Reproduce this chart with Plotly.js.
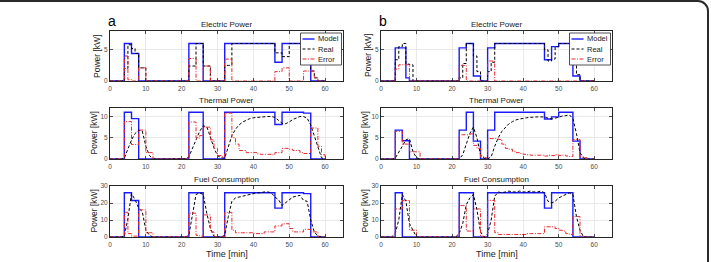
<!DOCTYPE html>
<html>
<head>
<meta charset="utf-8">
<script src="https://cdn.plot.ly/plotly-3.0.1.min.js"></script>
<style>
  html, body { margin: 0; padding: 0; background: #fff; overflow: hidden; width: 711px; height: 262px; }
  #chart { position: absolute; left: 0; top: 0; width: 711px; height: 262px; }
  #frame { position: absolute; left: -20px; top: 0; width: 729px; height: 400px; box-sizing: border-box;
           border: 2px solid #2a2a2a; border-radius: 11px; pointer-events: none; }
</style>
</head>
<body>
<div id="chart"></div>
<div id="frame"></div>
<script>
// Time axis (minutes) shared by every series
const minutes = [
  0,1,2,3,4,5,6,7,8,9,
  10,11,12,13,14,15,16,17,18,19,
  20,21,22,23,24,25,26,27,28,29,
  30,31,32,33,34,35,36,37,38,39,
  40,41,42,43,44,45,46,47,48,49,
  50,51,52,53,54,55,56,57,58,59,
  60];

const seriesNames = ['Model', 'Real', 'Error'];
const panelTitles = ['Electric Power', 'Thermal Power', 'Fuel Consumption'];
const caseLabels = ['a', 'b'];
const xTicks = [0, 10, 20, 30, 40, 50, 60];
const elecTicks = [0, 5];
const thermTicks = [0, 5, 10];
const fuelTicks = [0, 10, 20, 30];

// ---- case a ----
const elecModelA = [
  0,0,0,0,6,6,4.4,4.4,0,0,
  0,0,0,0,0,0,0,0,0,0,
  0,0,6,6,6,6,0,0,0,0,
  0,0,6,6,6,6,6,6,6,6,
  6,6,6,6,6,6,3,3,6,6,
  6,6,6,6,6,6,0,0,0,0,
  0];
const elecRealA = [
  0,0,0,0,2,5.8,5.2,4.4,2.1,2.1,
  0,0,0,0,0,0,0,0,0,0,
  0,0,2.4,2.4,6,6,2.4,2.4,0,0,
  0,0,2.5,2.5,6,6,6,6,6,6,
  6,6,6,6,6,6,4.5,4.5,3.9,3.9,
  6,6,6,6,4.4,4.4,1.6,0.5,0,0,
  0];
const elecErrorA = [
  0,0,0,0,4,0.2,0,0,2.1,2.1,
  0,0,0,0,0,0,0,0,0,0,
  0,0,3.6,3.6,0,0,2.4,2.4,0,0,
  0,0,3.5,3.5,0,0,0,0,0,0,
  0,0,0,0,0,0,1.5,1.5,2.1,2.1,
  0,0,0,0,1.6,1.6,1.6,0.5,0,0,
  0];

const thermModelA = [
  0,0,0,0,11,11,9.5,9.5,0,0,
  0,0,0,0,0,0,0,0,0,0,
  0,0,11,11,11,11,0,0,0,0,
  0,0,11,11,11,11,11,11,11,11,
  11,11,11,11,11,11,8.1,8.1,11,11,
  11,11,11,11,10.8,10.8,0,0,0,0,
  0];
const thermRealA = [
  0,0,0,0,0.2,2.2,4.5,6,6.8,6.6,
  3,0.8,0.1,0,0,0,0,0,0,0,
  0,0.1,0.5,2.5,4.8,6.5,7.8,7.6,5.2,2.6,
  0.8,0.3,0.2,3,5.5,7,8,8.7,9.2,9.5,
  9.7,9.8,9.9,10,10,10,9.8,9.1,8.4,8.3,
  8.7,9.3,9.7,10,10,9.6,8,5.5,2.5,0.3,
  0];
const thermErrorA = [
  0,0,0,0,8.8,8.8,3.4,3.4,6.8,6.8,
  1.5,1.5,0,0,0,0,0,0,0,0,
  0,0,8.7,8.7,4.9,5.5,7.5,7.5,4.5,2.5,
  0.8,0.5,10.8,10.8,5,3.5,2,2,1.5,1.5,
  1.5,1.2,1.1,1.1,1.1,1,1.5,1.5,2.5,2.5,
  2.3,2,2,1.5,1.3,1.3,7.3,7.3,3,1,
  0];

const fuelModelA = [
  0,0,0,0,26,26,21.5,21.5,0,0,
  0,0,0,0,0,0,0,0,0,0,
  0,0,26,26,26,26,0,0,0,0,
  0,0,26,26,26,26,26,26,26,26,
  26,26,26,26,26,26,17,17,26,26,
  26,26,26,26,25.5,25.5,0,0,0,0,
  0];
const fuelRealA = [
  0,0,0,0,0.5,11,25.5,22,17,15,
  4,1,0,0,0,0,0,0,0,0,
  0,0,1,13,25,26,25,14,5,0.5,
  0,0,1,12,21,23,23.5,24,24.5,25,
  25.5,26,26,26.5,26.5,26,23.5,22,18.5,20,
  22,23.5,24,24.5,21.5,21,10,3,0.5,0,
  0];
const fuelErrorA = [
  0,0,0,0,14.5,2,0.5,0.5,16,16,
  2.5,2.5,0,0,0,0,0,0,0,0,
  0,0,14,14,1,0.5,13,13,3,0,
  0,0,14.5,14.5,4,2.5,2.5,2.5,2.5,2.5,
  2,2,2,3,3,3,6.5,6.5,7.8,7.8,
  5,3,3,3,4.5,4.5,3,3,0,0,
  0];

// ---- case b ----
const elecModelB = [
  0,0,0,0,5.3,5.3,5.3,0.5,0,0,
  0,0,0,0,0,0,0,0,0,0,
  0,0,5.3,5.3,6,6,0.8,0.8,0,0,
  5.3,5.3,6,6,6,6,6,6,6,6,
  6,6,6,6,6,6,3.4,3.4,5.5,5.5,
  6,6,6,6,0.8,0.8,0,0,0,0,
  0];
const elecRealB = [
  0,0,0,0,3.4,5.5,6,2.7,2.6,0,
  0,0,0,0,0,0,0,0,0,0,
  0,0,0.5,2.8,6,6,4,1.5,0,0,
  1.5,3,6,6,6,6,6,6,6,6,
  6,6,6,6,6,6,5,3.2,3.5,5.5,
  6,6,6,6,4,1,0,0,0,0,
  0];
const elecErrorB = [
  0,0,0,0,1.9,2.6,2.6,2.6,0,0,
  0,0,0,0,0,0,0,0,0,0,
  0,0,2.5,2.5,0,0,0,0,0,0,
  3.2,3.2,0,0,0,0,0,0,0,0,
  0,0,0,0,0,0,0,0,0,0,
  0,0,0,0,0,0,0,0,0,0,
  0];

const thermModelB = [
  0,0,0,0,6.8,6.8,4.3,4.3,0,0,
  0,0,0,0,0,0,0,0,0,0,
  0,0,6.8,6.8,11,11,4.2,4.2,0,0,
  6.8,6.8,11,11,11,11,11,11,11,11,
  11,11,11,11,11,11,9.4,9.4,9.9,9.9,
  11,11,11,11,4.2,4.2,0,0,0,0,
  0];
const thermRealB = [
  0,0,0,0,0.2,1.5,3,4.5,4.8,1.7,
  0.3,0,0,0,0,0,0,0,0,0,
  0,0,0,1,3.5,6,7.5,5,1,0.2,
  0,0.5,3,5,6.5,7.5,8.3,8.8,9.2,9.4,
  9.6,9.7,9.8,9.9,9.9,9.9,9.9,9.6,9.4,9.6,
  9.9,10.1,10.2,10.4,9.5,6,1.5,0.2,0,0,
  0];
const thermErrorB = [
  0,0,0,0,6.5,6.5,3.5,3.5,1.7,1.7,
  1.7,0,0,0,0,0,0,0,0,0,
  0,0,5.7,5.7,5.7,5.9,3.2,2.5,0.5,0.3,
  4.8,4.8,4.8,4.6,3.5,2.5,2.3,1.8,1.5,1.3,
  1.1,1,0.9,0.9,0.9,0.9,0.7,0.9,0.8,1,
  0.8,0.9,0.7,0.6,4.6,4.6,0.5,0.3,0,0,
  0];

const fuelModelB = [
  0,0,0,0,26,26,0,0,0,0,
  0,0,0,0,0,0,0,0,0,0,
  0,0,26,26,26,26,0,0,0,0,
  26,26,26,26,26,26,26,26,26,26,
  26,26,26,26,26,26,17,17,26,26,
  26,26,26,26,0,0,0,0,0,0,
  0];
const fuelRealB = [
  0,0,0,0,2,10,25,21,8,4,
  0,0,0,0,0,0,0,0,0,0,
  0,0,2,8,19,23,25,16,3,0,
  2,10,24,26.5,26,26.5,27,26.5,26.5,27,
  26.5,26.5,27,26.5,26.5,27,26,21,20,21,
  23,24,25,26,25,12,4,0,0,0,
  0];
const fuelErrorB = [
  0,0,0,0,16.5,16.5,21.5,21.5,4,4,
  0,0,0,0,0,0,0,0,0,0,
  0,0,18.5,18.5,3.5,3.5,16.5,16.5,0,0,
  21.5,21.5,2.5,1.5,1.5,1.5,1.5,1.5,1.5,1.5,
  1.5,2,2,2,2,2,6,6,6,5,
  4,3.5,2,1.5,12,12,0,0,0,0,
  0];

// ---- page geometry (pixels) ----
const W = 711, H = 262;
const FONT = '"Liberation Sans", Arial, Helvetica, sans-serif';
const colPx = [[110, 343], [381, 612]];          // left/right edge of each column
const rowPx = [[31, 81], [108, 159], [186, 237]]; // top/bottom edge of each row
const px = v => v / W;
const py = v => 1 - v / H;

const lineStyles = {
  Model: { color: '#1a1aff', width: 1.4, dash: 'solid' },
  Real:  { color: '#000000', width: 1.0, dash: '3px,2px' },
  Error: { color: '#e8282d', width: 1.0, dash: '4px,1.5px,1px,1.5px' }
};

const panels = [
  // row, col, series, y range, y ticks, shape of the measured curve
  { r: 0, c: 0, s: [elecModelA, elecRealA, elecErrorA],   yr: [0, 8],  yt: elecTicks,  realShape: 'hv' },
  { r: 0, c: 1, s: [elecModelB, elecRealB, elecErrorB],   yr: [0, 8],  yt: elecTicks,  realShape: 'hv' },
  { r: 1, c: 0, s: [thermModelA, thermRealA, thermErrorA], yr: [0, 12], yt: thermTicks, realShape: 'linear' },
  { r: 1, c: 1, s: [thermModelB, thermRealB, thermErrorB], yr: [0, 12], yt: thermTicks, realShape: 'linear' },
  { r: 2, c: 0, s: [fuelModelA, fuelRealA, fuelErrorA],   yr: [0, 30], yt: fuelTicks,  realShape: 'linear' },
  { r: 2, c: 1, s: [fuelModelB, fuelRealB, fuelErrorB],   yr: [0, 30], yt: fuelTicks,  realShape: 'linear' }
];

const axisBase = {
  showline: true, mirror: 'ticks', linecolor: '#262626', linewidth: 1,
  ticks: 'inside', ticklen: 3, tickwidth: 0.8, tickcolor: '#262626',
  showgrid: true, gridcolor: '#e4e4e4', gridwidth: 0.8, zeroline: false,
  tickfont: { family: FONT, size: 6.5, color: '#4a4a4a' }, fixedrange: true
};

const traces = [];
const layout = {
  width: W, height: H, margin: { l: 0, r: 0, t: 0, b: 0 },
  paper_bgcolor: '#ffffff', plot_bgcolor: '#ffffff', showlegend: false,
  font: { family: FONT, color: '#1a1a1a' },
  shapes: [], annotations: []
};

panels.forEach((p, i) => {
  const n = i + 1;
  const xk = n === 1 ? 'x' : 'x' + n;
  const yk = n === 1 ? 'y' : 'y' + n;
  const [x0, x1] = colPx[p.c];
  const [y0, y1] = rowPx[p.r];

  layout['xaxis' + (n === 1 ? '' : n)] = Object.assign({}, axisBase, {
    domain: [px(x0), px(x1)], range: [0, 65], tickvals: xTicks, anchor: yk, ticklabelstandoff: 1
  });
  layout['yaxis' + (n === 1 ? '' : n)] = Object.assign({}, axisBase, {
    domain: [py(y1), py(y0)], range: p.yr, tickvals: p.yt, anchor: xk
  });

  seriesNames.forEach((name, k) => {
    const st = lineStyles[name];
    traces.push({
      type: 'scatter', mode: 'lines', name: name,
      x: minutes, y: p.s[k], xaxis: xk, yaxis: yk,
      line: { color: st.color, width: st.width, dash: st.dash,
              shape: name === 'Real' ? p.realShape : 'hv' },
      hoverinfo: 'skip'
    });
  });

  const cx = (x0 + x1) / 2;
  // subplot title
  layout.annotations.push({
    xref: 'paper', yref: 'paper', x: px(cx), y: py(y0 - 7), xanchor: 'center', yanchor: 'middle',
    text: panelTitles[p.r], showarrow: false, font: { family: FONT, size: 8, color: '#1a1a1a' }
  });
  // y-axis title
  layout.annotations.push({
    xref: 'paper', yref: 'paper', x: px(x0 - (p.r === 0 ? 13 : 17)), y: py((y0 + y1) / 2),
    xanchor: 'center', yanchor: 'middle', textangle: -90,
    text: 'Power [kW]', showarrow: false, font: { family: FONT, size: 8.5, color: '#1a1a1a' }
  });
  if (p.r === 2) {
    layout.annotations.push({
      xref: 'paper', yref: 'paper', x: px(cx), y: py(254), xanchor: 'center', yanchor: 'middle',
      text: 'Time [min]', showarrow: false, font: { family: FONT, size: 9, color: '#1a1a1a' }
    });
  }
  if (p.r === 0) {
    // case letter
    layout.annotations.push({
      xref: 'paper', yref: 'paper', x: px(x0 + 2), y: py(21), xanchor: 'center', yanchor: 'middle',
      text: caseLabels[p.c], showarrow: false, font: { family: FONT, size: 14, color: '#000' }
    });
    // legend box
    const lr = x1 - 1.5, ll = lr - 41, lt = y0 + 2, lb = lt + 32;
    layout.shapes.push({
      type: 'rect', xref: 'paper', yref: 'paper', x0: px(ll), x1: px(lr), y0: py(lb), y1: py(lt),
      fillcolor: '#ffffff', line: { color: '#262626', width: 0.8 }, layer: 'above'
    });
    seriesNames.forEach((name, k) => {
      const yy = lt + 6 + k * 10;
      const st = lineStyles[name];
      layout.shapes.push({
        type: 'line', xref: 'paper', yref: 'paper', x0: px(ll + 2), x1: px(ll + 14), y0: py(yy), y1: py(yy),
        line: { color: st.color, width: st.width, dash: st.dash }, layer: 'above'
      });
      layout.annotations.push({
        xref: 'paper', yref: 'paper', x: px(ll + 15), y: py(yy), xanchor: 'left', yanchor: 'middle',
        text: name, showarrow: false, font: { family: FONT, size: 7.5, color: '#1a1a1a' }
      });
    });
  }
});

Plotly.newPlot('chart', traces, layout, { displayModeBar: false, staticPlot: true });
</script>
</body>
</html>
